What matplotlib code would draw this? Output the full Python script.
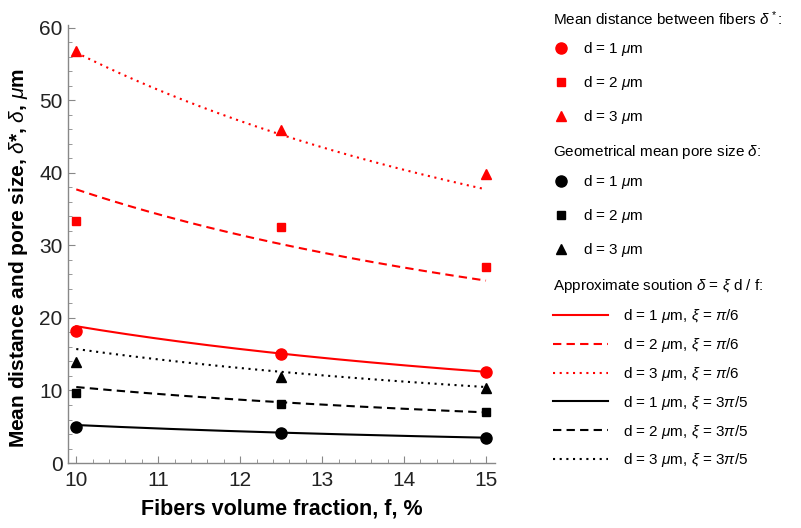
import numpy as np
import matplotlib
matplotlib.use('Agg')
import matplotlib.pyplot as plt
from matplotlib.ticker import MultipleLocator

plt.rcParams['font.family'] = ['Liberation Sans', 'DejaVu Sans']
plt.rcParams['mathtext.fontset'] = 'custom'
plt.rcParams['mathtext.it'] = 'Liberation Sans:italic'
plt.rcParams['mathtext.rm'] = 'Liberation Sans'
plt.rcParams['mathtext.bf'] = 'Liberation Sans:bold'

# fiber volume fraction, %
f = [10, 12.5, 15]

# mean distance between fibers (red markers), d = 1, 2, 3 um
dist_d1 = [18.2, 15.0, 12.5]
dist_d2 = [33.4, 32.5, 27.0]
dist_d3 = [56.7, 45.9, 39.8]

# geometrical mean pore size (black markers), d = 1, 2, 3 um
pore_d1 = [4.9, 4.1, 3.5]
pore_d2 = [9.6, 8.1, 7.0]
pore_d3 = [13.9, 11.9, 10.4]

# approximate solution delta = xi d / f, value at f = 10 %
red_at10 = [18.85, 37.70, 56.55]
black_at10 = [5.24, 10.47, 15.71]

d_labels = ['d = 1 $\\mu$m', 'd = 2 $\\mu$m', 'd = 3 $\\mu$m']
red_line_labels = ['d = 1 $\\mu$m, $\\xi$ = $\\pi$/6',
                   'd = 2 $\\mu$m, $\\xi$ = $\\pi$/6',
                   'd = 3 $\\mu$m, $\\xi$ = $\\pi$/6']
black_line_labels = ['d = 1 $\\mu$m, $\\xi$ = 3$\\pi$/5',
                     'd = 2 $\\mu$m, $\\xi$ = 3$\\pi$/5',
                     'd = 3 $\\mu$m, $\\xi$ = 3$\\pi$/5']

RED = '#ff0000'
BLACK = '#000000'
markers = ['o', 's', '^']
msizes = [8, 5.5, 7.5]
styles = ['-', (0, (4, 2.5)), (0, (1, 2.2))]

fig = plt.figure(figsize=(8.01, 5.28), dpi=100)
ax = fig.add_axes([0.085, 0.123, 0.533, 0.829])

ff = np.linspace(10, 15, 200)
red_lines = []
black_lines = []
for k, ls in zip(red_at10, styles):
    ln, = ax.plot(ff, k * 10 / ff, color=RED, ls=ls, lw=1.5)
    red_lines.append(ln)
for k, ls in zip(black_at10, styles):
    ln, = ax.plot(ff, k * 10 / ff, color=BLACK, ls=ls, lw=1.5)
    black_lines.append(ln)

red_pts = []
black_pts = []
for ys, m, ms in zip([dist_d1, dist_d2, dist_d3], markers, msizes):
    p, = ax.plot(f, ys, ls='none', marker=m, ms=ms, color=RED, zorder=5)
    red_pts.append(p)
for ys, m, ms in zip([pore_d1, pore_d2, pore_d3], markers, msizes):
    p, = ax.plot(f, ys, ls='none', marker=m, ms=ms, color=BLACK, zorder=5)
    black_pts.append(p)

ax.set_xlim(9.9, 15.11)
ax.set_ylim(0, 60.3)
ax.spines['top'].set_visible(False)
ax.spines['right'].set_visible(False)
for s in ['left', 'bottom']:
    ax.spines[s].set_color('#888888')
    ax.spines[s].set_linewidth(1.0)
ax.xaxis.set_major_locator(MultipleLocator(1))
ax.xaxis.set_minor_locator(MultipleLocator(0.2))
ax.yaxis.set_major_locator(MultipleLocator(10))
ax.yaxis.set_minor_locator(MultipleLocator(2))
ax.tick_params(which='both', direction='in', color='#888888', labelsize=15,
               labelcolor='#222222')
ax.tick_params(which='major', length=5)
ax.tick_params(which='minor', length=3)
ax.tick_params(axis='x', pad=6)
ax.tick_params(axis='y', pad=4)

ax.set_xlabel('Fibers volume fraction, f, %', fontsize=15.5, fontweight='bold',
              labelpad=6)
ax.set_ylabel("Mean distance and pore size, $\\mathit{\\delta}$*, $\\mathit{\\delta}$, $\\mu$m",
              fontsize=15, fontweight='bold')
ax.yaxis.set_label_coords(-0.09, 0.468)

leg_kw = dict(loc='upper left', frameon=False, fontsize=11,
              title_fontsize=11, alignment='left', labelspacing=1.05,
              handletextpad=0.95, borderaxespad=0)
leg1 = fig.legend(red_pts, d_labels, bbox_to_anchor=(0.683, 0.994),
                  title='Mean distance between fibers $\\delta^*$:',
                  handlelength=1.0, **leg_kw)
leg2 = fig.legend(black_pts, d_labels, bbox_to_anchor=(0.683, 0.741),
                  title='Geometrical mean pore size $\\delta$:',
                  handlelength=1.0, **leg_kw)
leg_kw['labelspacing'] = 0.71
leg3 = fig.legend(red_lines + black_lines, red_line_labels + black_line_labels,
                  bbox_to_anchor=(0.683, 0.4875),
                  title='Approximate soution $\\delta$ = $\\xi$ d / f:',
                  handlelength=3.6, **leg_kw)
for lg in (leg1, leg2, leg3):
    lg._legend_box.sep = 9

fig.savefig('out.png', dpi=100)
